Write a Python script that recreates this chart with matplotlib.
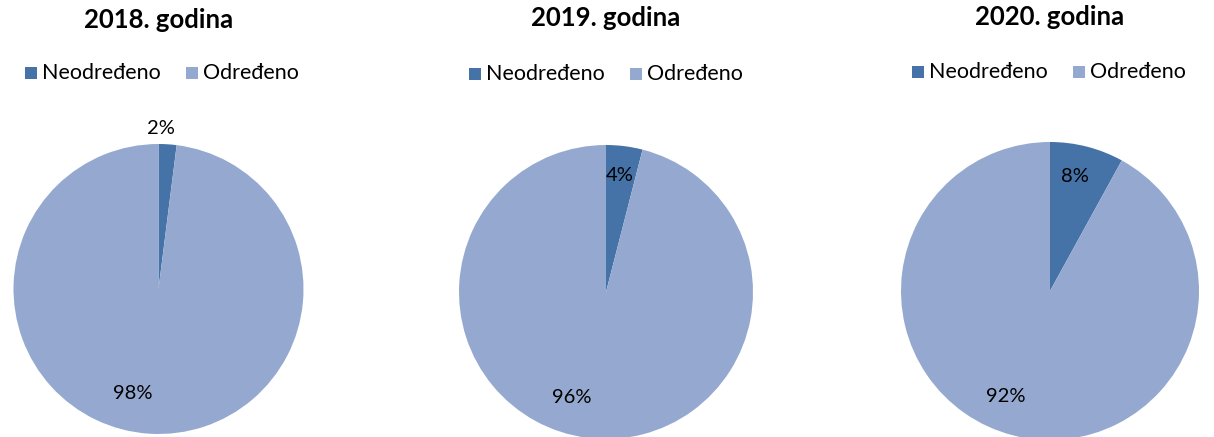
import matplotlib
matplotlib.use("Agg")
import matplotlib.pyplot as plt
from matplotlib.patches import Rectangle

# Data
years = ["2018. godina", "2019. godina", "2020. godina"]
categories = ["Neodređeno", "Određeno"]
neodredeno = [2, 4, 8]
odredeno = [98, 96, 92]

colors = ["#4572A7", "#95A9D0"]

W, H = 1214, 437
fig = plt.figure(figsize=(W / 100, H / 100), dpi=100)
plt.rcParams["font.family"] = ["Lato", "DejaVu Sans"]

# Layout (pixels from top-left): pie centre x, centre y, radius
pies = [(158.5, 289, 145), (606, 292, 147), (1050, 291, 149)]
title_y = [20, 18, 17]
legend_xy = [(25, 73), (469, 74), (912, 72)]
# Label offsets in pie-radius units: (small slice), (large slice)
label_pos = [((0.014, 1.11), (-0.18, -0.72)),
             ((0.095, 0.79), (-0.23, -0.72)),
             ((0.17, 0.77), (-0.30, -0.71))]


def fx(px):
    return px / W


def fy(py):
    return 1 - py / H


for i, year in enumerate(years):
    cx, cy, r = pies[i]
    ax = fig.add_axes([fx(cx - r), fy(cy + r), 2 * r / W, 2 * r / H])
    vals = [neodredeno[i], odredeno[i]]
    ax.pie(vals, colors=colors, startangle=90, counterclock=False,
           radius=1, wedgeprops=dict(linewidth=0))
    ax.set_xlim(-1, 1)
    ax.set_ylim(-1, 1)
    ax.set_aspect("auto")
    ax.axis("off")
    for v, (lx, ly) in zip(vals, label_pos[i]):
        ax.text(lx, ly, f"{v}%", ha="center", va="center", fontsize=14.5,
                color="black", clip_on=False)

    # Title
    fig.text(fx(cx), fy(title_y[i]), year, ha="center", va="center",
             fontsize=18.5, fontweight="bold")

    # Legend
    lx, ly = legend_xy[i]
    sq = 12
    x = lx
    for cat, col in zip(categories, colors):
        fig.patches.append(Rectangle((fx(x), fy(ly + sq / 2)), sq / W, sq / H,
                                     transform=fig.transFigure,
                                     facecolor=col, edgecolor="none"))
        fig.text(fx(x + sq + 5), fy(ly), cat, ha="left", va="center",
                 fontsize=15.5)
        x += 161

fig.savefig("out.png", dpi=100)
